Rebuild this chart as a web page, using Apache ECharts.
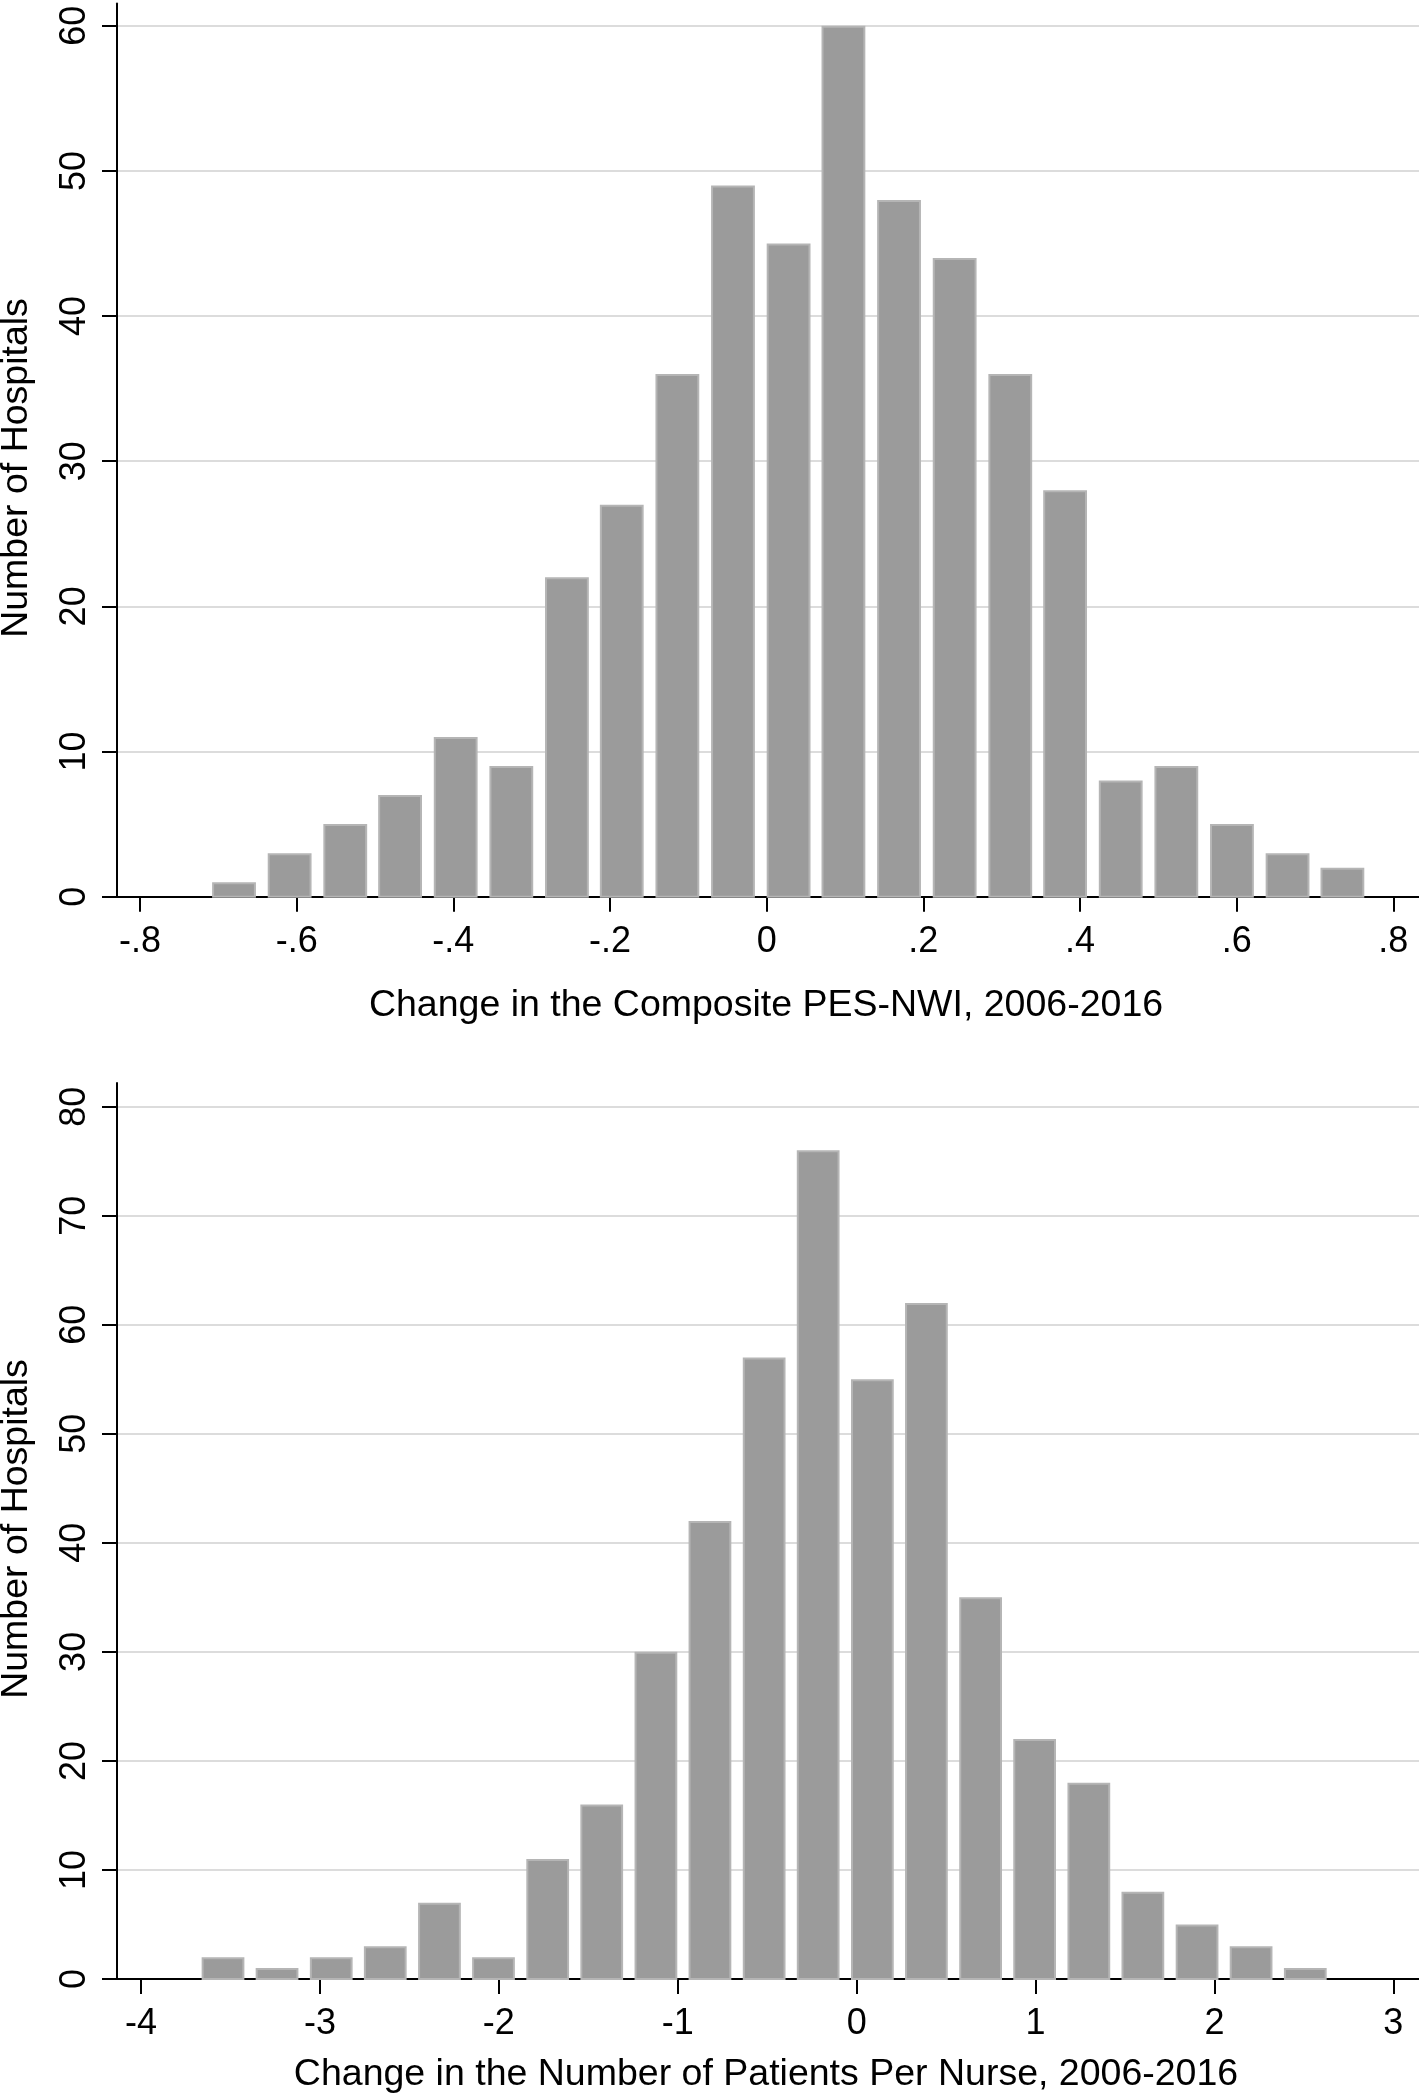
<!DOCTYPE html>
<html>
<head>
<meta charset="utf-8">
<script src="https://cdn.jsdelivr.net/npm/echarts@6/dist/echarts.min.js"></script>
<style>
html,body{margin:0;padding:0;background:#fff;}
#chart{width:1419px;height:2100px;}
</style>
</head>
<body>
<div id="chart"></div>
<script>
// ---- Data: top histogram (Change in the Composite PES-NWI) ----
var topBinCenters = [-0.680, -0.609, -0.538, -0.468, -0.397, -0.326, -0.255, -0.185, -0.114, -0.043,
                     0.028, 0.098, 0.169, 0.240, 0.311, 0.381, 0.452, 0.523, 0.594, 0.665, 0.735];
var topCounts = [1, 3, 5, 7, 11, 9, 22, 27, 36, 49, 45, 60, 48, 44, 36, 28, 8, 9, 5, 3, 2];
var topBinWidth = 0.0708;
var topXTicks = [-0.8, -0.6, -0.4, -0.2, 0, 0.2, 0.4, 0.6, 0.8];
var topXTickLabels = ['-.8', '-.6', '-.4', '-.2', '0', '.2', '.4', '.6', '.8'];
var topYTicks = [0, 10, 20, 30, 40, 50, 60];

// ---- Data: bottom histogram (Change in the Number of Patients Per Nurse) ----
var botBinCenters = [-3.542, -3.240, -2.937, -2.635, -2.332, -2.030, -1.727, -1.425, -1.122, -0.820,
                     -0.517, -0.215, 0.088, 0.390, 0.693, 0.995, 1.298, 1.600, 1.903, 2.205, 2.508];
var botCounts = [2, 1, 2, 3, 7, 2, 11, 16, 30, 42, 57, 76, 55, 62, 35, 22, 18, 8, 5, 3, 1];
var botBinWidth = 0.3025;
var botXTicks = [-4, -3, -2, -1, 0, 1, 2, 3];
var botXTickLabels = ['-4', '-3', '-2', '-1', '0', '1', '2', '3'];
var botYTicks = [0, 10, 20, 30, 40, 50, 60, 70, 80];

var xTitleTop = 'Change in the Composite PES-NWI, 2006-2016';
var xTitleBot = 'Change in the Number of Patients Per Nurse, 2006-2016';
var yTitle = 'Number of Hospitals';

// ---- Styles ----
var FONT = "'Liberation Sans', Arial, Helvetica, sans-serif";
var barFillFrac = 0.79;
var TICKFS = 36;
var TITLEFS = 37.5;

function zip(a, b) { return a.map(function (v, i) { return [v, b[i]]; }); }

function makeRender(binWidth) {
  var half = binWidth * barFillFrac / 2;
  return function (params, api) {
    var x = api.value(0), y = api.value(1);
    var p1 = api.coord([x - half, y]);
    var p2 = api.coord([x + half, 0]);
    return {
      type: 'rect',
      shape: { x: p1[0] + 1, y: p1[1] + 1, width: p2[0] - p1[0] - 2, height: p2[1] - p1[1] - 1 },
      style: { fill: '#9b9b9b', stroke: '#b5b5b5', lineWidth: 2 }
    };
  };
}

function labelFmt(ticks, labels) {
  return function (v) {
    for (var i = 0; i < ticks.length; i++) {
      if (Math.abs(ticks[i] - v) < 1e-6) return labels[i];
    }
    return '';
  };
}

var axisLineStyle = { color: '#000', width: 2 };

function xAxisCfg(gridIndex, min, max, ticks, labels) {
  return {
    type: 'value', gridIndex: gridIndex, min: min, max: max,
    axisLine: { show: true, onZero: false, lineStyle: axisLineStyle },
    axisTick: { show: true, length: 15, lineStyle: axisLineStyle, customValues: ticks },
    axisLabel: { show: true, margin: 27, fontSize: TICKFS, fontFamily: FONT, color: '#000',
                 customValues: ticks, formatter: labelFmt(ticks, labels) },
    splitLine: { show: false }
  };
}

function yAxisCfg(gridIndex, max, ticks) {
  return {
    type: 'value', gridIndex: gridIndex, min: 0, max: max,
    axisLine: { show: true, onZero: false, lineStyle: axisLineStyle },
    axisTick: { show: true, length: 15, lineStyle: axisLineStyle, customValues: ticks },
    axisLabel: { show: true, rotate: 90, margin: 24, fontSize: TICKFS, fontFamily: FONT, color: '#000',
                 customValues: ticks, formatter: function (v) { return String(v); } },
    splitLine: { show: true, lineStyle: { color: '#dcdcdc', width: 2 } }
  };
}

var chart = echarts.init(document.getElementById('chart'), null, { renderer: 'canvas' });

var option = {
  backgroundColor: '#ffffff',
  animation: false,
  grid: [
    { left: 117, right: 0, top: 3.5, bottom: 1203.3 },
    { left: 117, right: 0, top: 1083, bottom: 121 }
  ],
  xAxis: [
    xAxisCfg(0, -0.8294, 0.8328, topXTicks, topXTickLabels),
    xAxisCfg(1, -4.1346, 3.1436, botXTicks, botXTickLabels)
  ],
  yAxis: [
    yAxisCfg(0, 61.53, topYTicks),
    yAxisCfg(1, 82.17, botYTicks)
  ],
  series: [
    { type: 'custom', xAxisIndex: 0, yAxisIndex: 0, renderItem: makeRender(topBinWidth),
      encode: { x: 0, y: 1 }, data: zip(topBinCenters, topCounts), clip: false },
    { type: 'custom', xAxisIndex: 1, yAxisIndex: 1, renderItem: makeRender(botBinWidth),
      encode: { x: 0, y: 1 }, data: zip(botBinCenters, botCounts), clip: false }
  ],
  graphic: [
    { type: 'text', x: 766, y: 1006, style: { text: xTitleTop, font: TITLEFS + 'px ' + FONT, fill: '#000',
      align: 'center', verticalAlign: 'middle' } },
    { type: 'text', x: 766, y: 2075, style: { text: xTitleBot, font: TITLEFS + 'px ' + FONT, fill: '#000',
      align: 'center', verticalAlign: 'middle' } },
    { type: 'text', x: 17, y: 468, rotation: Math.PI / 2, style: { text: yTitle, font: TITLEFS + 'px ' + FONT,
      fill: '#000', align: 'center', verticalAlign: 'middle' } },
    { type: 'text', x: 17, y: 1529, rotation: Math.PI / 2, style: { text: yTitle, font: TITLEFS + 'px ' + FONT,
      fill: '#000', align: 'center', verticalAlign: 'middle' } }
  ]
};
chart.setOption(option);
</script>
</body>
</html>
